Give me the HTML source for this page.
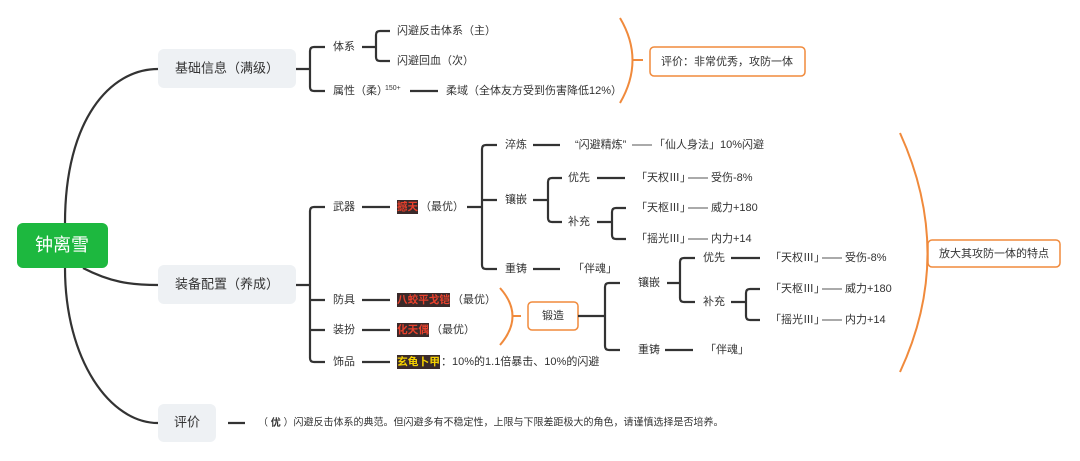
<!DOCTYPE html>
<html><head><meta charset="utf-8"><style>
body{margin:0;background:#fff;}
svg{display:block;font-family:"Liberation Sans","Noto Sans CJK SC",sans-serif;}
text{font-size:11px;fill:#333;dominant-baseline:middle;}
.l{stroke:#333;stroke-width:2.2;fill:none;}
.t{stroke:#555;stroke-width:1;fill:none;}
.o{stroke:#f08a3c;stroke-width:2;fill:none;}
.h{font-size:10.5px;font-weight:bold;}
</style></head><body>
<svg width="1080" height="461" viewBox="0 0 1080 461">
<path class="l" d="M65 223 C65 120 110 69 158 69"/>
<path class="l" d="M65 268 C65 360 110 423 158 423"/>
<path class="l" d="M83 268 C110 282 130 285 158 285"/>
<rect x="17" y="223" width="91" height="45" rx="6" fill="#1db83f"/>
<text x="62" y="246" text-anchor="middle" style="font-size:18px;fill:#fff">钟离雪</text>
<rect x="158" y="49" width="138" height="39" rx="6" fill="#eef1f4"/>
<text x="227" y="69" text-anchor="middle" style="font-size:13px">基础信息（满级）</text>
<rect x="158" y="265" width="138" height="39" rx="6" fill="#eef1f4"/>
<text x="227" y="285" text-anchor="middle" style="font-size:13px">装备配置（养成）</text>
<rect x="158" y="404" width="58" height="38" rx="6" fill="#eef1f4"/>
<text x="187" y="423" text-anchor="middle" style="font-size:13px">评价</text>

<path class="l" d="M296 69 H310 M325 47 H314 Q310 47 310 51 V87 Q310 91 314 91 H325"/>
<text x="333" y="47">体系</text>
<text x="333" y="91">属性（柔）</text>
<text x="385" y="88" style="font-size:7px">150+</text>
<path class="l" d="M362 47 H376 M390 31 H380 Q376 31 376 35 V57 Q376 61 380 61 H390"/>
<text x="397" y="31">闪避反击体系（主）</text>
<text x="397" y="61">闪避回血（次）</text>
<path class="l" d="M410 91 H438"/>
<text x="446" y="91">柔域（全体友方受到伤害降低12%）</text>
<path class="o" d="M620 18 Q645 60 620 103 M632 60 H643"/>
<rect x="650" y="47" width="155" height="29" rx="4" fill="#fff" stroke="#f08a3c" stroke-width="1.5"/>
<text x="727" y="62" text-anchor="middle">评价：非常优秀，攻防一体</text>

<path class="l" d="M296 285 H310 M325 207 H314 Q310 207 310 211 V358 Q310 362 314 362 H325 M310 300 H325 M310 330 H325"/>
<text x="333" y="207">武器</text>
<text x="333" y="300">防具</text>
<text x="333" y="330">装扮</text>
<text x="333" y="362">饰品</text>
<path class="l" d="M362 207 H390 M362 300 H390 M362 330 H390 M362 362 H390"/>
<rect x="397" y="200" width="21" height="14" fill="#3a2a2a"/>
<text x="397" y="207" class="h" style="fill:#e8402c" textLength="21" lengthAdjust="spacingAndGlyphs">撼天</text>
<text x="420" y="207">（最优）</text>
<rect x="397" y="293" width="53" height="14" fill="#3a2a2a"/>
<text x="397" y="300" class="h" style="fill:#e8402c" textLength="53" lengthAdjust="spacingAndGlyphs">八蛟平戈铠</text>
<text x="452" y="300">（最优）</text>
<rect x="397" y="323" width="32" height="14" fill="#3a2a2a"/>
<text x="397" y="330" class="h" style="fill:#e8402c" textLength="32" lengthAdjust="spacingAndGlyphs">化天偶</text>
<text x="431" y="330">（最优）</text>
<rect x="397" y="355" width="43" height="14" fill="#3a2a2a"/>
<text x="397" y="362" class="h" style="fill:#f5d000" textLength="43" lengthAdjust="spacingAndGlyphs">玄龟卜甲</text>
<text x="441" y="362">：10%的1.1倍暴击、10%的闪避</text>

<path class="l" d="M467 207 H482 M497 145 H486 Q482 145 482 149 V265 Q482 269 486 269 H497 M482 200 H497"/>
<text x="505" y="145">淬炼</text>
<text x="505" y="200">镶嵌</text>
<text x="505" y="269">重铸</text>
<path class="l" d="M533 145 H560 M533 269 H560"/>
<text x="575" y="145">“闪避精炼”</text>
<path class="t" d="M632 145 H652"/>
<text x="654" y="145">「仙人身法」10%闪避</text>
<text x="573" y="269">「伴魂」</text>
<path class="l" d="M533 200 H548 M562 178 H552 Q548 178 548 182 V218 Q548 222 552 222 H562"/>
<text x="568" y="178">优先</text>
<text x="568" y="222">补充</text>
<path class="l" d="M597 178 H625 M597 222 H612 M626 208 H616 Q612 208 612 212 V235 Q612 239 616 239 H626"/>
<text x="636" y="178">「天权Ⅲ」</text><path class="t" d="M688 178 H708"/><text x="711" y="178">受伤-8%</text>
<text x="636" y="208">「天枢Ⅲ」</text><path class="t" d="M688 208 H708"/><text x="711" y="208">威力+180</text>
<text x="636" y="239">「摇光Ⅲ」</text><path class="t" d="M688 239 H708"/><text x="711" y="239">内力+14</text>

<path class="o" d="M500 288 Q525 316 500 345 M512 316 H521"/>
<rect x="528" y="302" width="50" height="28" rx="4" fill="#fff" stroke="#f08a3c" stroke-width="1.5"/>
<text x="553" y="316" text-anchor="middle">锻造</text>
<path class="l" d="M578 316 H605 M620 283 H609 Q605 283 605 287 V346 Q605 350 609 350 H620"/>
<text x="638" y="283">镶嵌</text>
<text x="638" y="350">重铸</text>
<path class="l" d="M665 350 H693"/>
<text x="705" y="350">「伴魂」</text>
<path class="l" d="M667 283 H680 M695 258 H684 Q680 258 680 262 V298 Q680 302 684 302 H695"/>
<text x="703" y="258">优先</text>
<text x="703" y="302">补充</text>
<path class="l" d="M731 258 H760 M731 302 H746 M760 289 H750 Q746 289 746 293 V316 Q746 320 750 320 H760"/>
<text x="770" y="258">「天权Ⅲ」</text><path class="t" d="M822 258 H842"/><text x="845" y="258">受伤-8%</text>
<text x="770" y="289">「天枢Ⅲ」</text><path class="t" d="M822 289 H842"/><text x="845" y="289">威力+180</text>
<text x="770" y="320">「摇光Ⅲ」</text><path class="t" d="M822 320 H842"/><text x="845" y="320">内力+14</text>

<path class="o" d="M900 133 Q955 254 900 372 M927 254 H936"/>
<rect x="928" y="240" width="132" height="27" rx="4" fill="#fff" stroke="#f08a3c" stroke-width="1.5"/>
<text x="994" y="254" text-anchor="middle">放大其攻防一体的特点</text>

<path class="l" d="M228 423 H245"/>
<text x="258" y="423" style="font-size:10px">（ <tspan style="font-weight:bold">优</tspan> ）闪避反击体系的典范。但闪避多有不稳定性，上限与下限差距极大的角色，请谨慎选择是否培养。</text>
</svg>
</body></html>
